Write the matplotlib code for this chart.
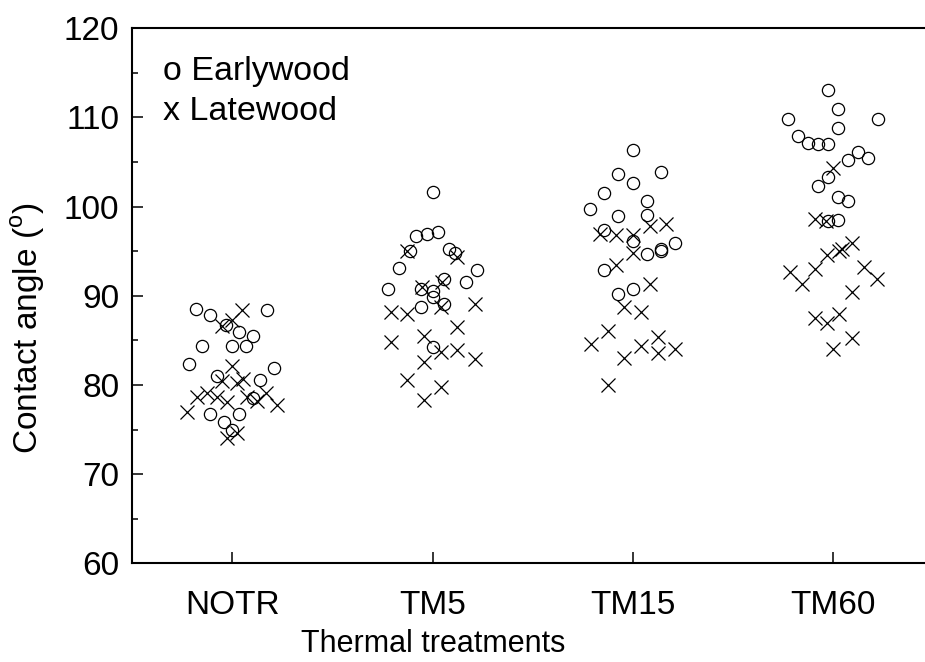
import matplotlib
matplotlib.use("Agg")
import matplotlib.pyplot as plt
from matplotlib.ticker import MultipleLocator

plt.rcParams['font.family'] = ['Liberation Sans', 'DejaVu Sans']
plt.rcParams['mathtext.fontset'] = 'custom'
plt.rcParams['mathtext.rm'] = 'Liberation Sans'

categories = ["NOTR", "TM5", "TM15", "TM60"]

# jitter offsets (category units) and contact angles
early_dx = {
    "NOTR": [-0.183, -0.113, -0.031, 0.033, 0.105, 0.175, -0.15, -0.003, 0.068, -0.218, 0.21, -0.075, 0.138, 0.105, -0.113, 0.033, -0.041, -0.003],
    "TM5": [0.0, -0.085, -0.03, 0.025, -0.113, 0.082, 0.112, -0.17, 0.222, 0.055, 0.165, -0.225, -0.056, 0.002, 0.0, 0.055, -0.056, 0.0],
    "TM15": [0.0, -0.074, 0.142, 0.0, -0.144, 0.071, -0.216, -0.074, 0.071, -0.144, 0.0, 0.212, 0.142, 0.142, 0.071, -0.144, 0.0, -0.074],
    "TM60": [-0.025, 0.023, -0.225, 0.225, 0.023, -0.176, -0.126, -0.076, -0.025, 0.123, 0.175, 0.073, -0.025, -0.076, 0.023, 0.073, -0.025, 0.023],
}
early_val = {
    "NOTR": [88.55, 87.8, 86.76, 85.9, 85.45, 88.4, 84.34, 84.34, 84.34, 82.4, 81.9, 81.06, 80.6, 78.5, 76.8, 76.8, 75.9, 75.0],
    "TM5": [101.6, 96.7, 96.9, 97.2, 95.0, 95.3, 94.8, 93.1, 92.9, 91.9, 91.6, 90.8, 90.8, 90.5, 89.9, 89.1, 88.7, 84.3],
    "TM15": [106.4, 103.7, 103.9, 102.7, 101.5, 100.6, 99.7, 98.9, 99.05, 97.4, 96.1, 95.9, 95.3, 95.0, 94.7, 92.9, 90.8, 90.2],
    "TM60": [113.1, 110.9, 109.8, 109.8, 108.85, 107.9, 107.1, 107.05, 107.05, 106.1, 105.5, 105.2, 103.3, 102.3, 101.05, 100.65, 98.4, 98.55],
}
late_dx = {
    "NOTR": [0.05, -0.053, -0.003, -0.003, -0.053, 0.022, 0.052, 0.168, -0.178, -0.128, -0.078, -0.025, 0.072, 0.122, 0.222, -0.228, -0.025, 0.022],
    "TM5": [-0.128, 0.122, -0.053, 0.047, 0.042, 0.21, -0.208, -0.128, 0.122, -0.045, -0.208, 0.042, 0.122, 0.21, -0.045, -0.128, 0.042, -0.045],
    "TM15": [-0.166, -0.082, 0.0, 0.084, 0.167, 0.0, -0.082, 0.084, -0.042, 0.042, -0.124, -0.209, 0.042, 0.126, 0.126, 0.209, -0.042, -0.124],
    "TM60": [0.0, -0.091, -0.035, 0.095, -0.031, 0.03, 0.045, -0.216, -0.091, 0.156, -0.155, 0.218, 0.095, -0.091, -0.031, 0.03, 0.095, 0.0],
}
late_val = {
    "NOTR": [88.4, 86.6, 87.3, 82.1, 80.4, 80.25, 80.7, 79.1, 78.6, 79.05, 78.6, 78.1, 78.6, 78.2, 77.75, 77.0, 74.0, 74.6],
    "TM5": [95.0, 94.3, 91.0, 91.5, 88.7, 89.1, 88.2, 88.0, 86.5, 85.5, 84.8, 83.7, 83.9, 82.9, 82.6, 80.6, 79.75, 78.3],
    "TM15": [96.9, 96.8, 96.8, 97.85, 98.1, 94.8, 93.5, 91.3, 88.7, 88.2, 86.0, 84.6, 84.4, 85.4, 83.6, 84.05, 83.0, 80.0],
    "TM60": [104.3, 98.6, 98.4, 95.9, 94.6, 95.0, 95.2, 92.7, 93.05, 93.2, 91.3, 91.9, 90.4, 87.5, 86.9, 88.0, 85.3, 84.0],
}

W, H = 925, 662
fig = plt.figure(figsize=(W / 100, H / 100), dpi=100)
ax = fig.add_axes([131.7 / W, 1 - 563.3 / H, (W - 131.7) / W, (563.3 - 28.3) / H])

for i, c in enumerate(categories):
    ax.plot([i + d for d in early_dx[c]], early_val[c], linestyle='none', marker='o',
            ms=8.8, mfc='none', mec='black', mew=0.9)
    ax.plot([i + d for d in late_dx[c]], late_val[c], linestyle='none', marker='x',
            ms=9.5, mec='black', mew=0.9)

ax.set_xlim(-0.503, 3.46)
ax.set_ylim(60, 120)
ax.set_xticks(range(len(categories)))
ax.set_xticklabels(categories)
ax.yaxis.set_major_locator(MultipleLocator(10))
ax.yaxis.set_minor_locator(MultipleLocator(5))
ax.tick_params(axis='both', which='major', direction='in', length=8, width=1.1,
               labelsize=24, pad=9)
ax.tick_params(axis='x', which='major', pad=19)
ax.tick_params(axis='y', which='minor', direction='in', length=4, width=1.1)
ax.tick_params(axis='x', which='minor', bottom=False)
ax.spines['right'].set_visible(False)
for s in ['left', 'bottom', 'top']:
    ax.spines[s].set_linewidth(1.5)

ax.set_xlabel("Thermal treatments", fontsize=22)
ax.xaxis.set_label_coords((433 - 131.7) / (W - 131.7), -0.123)
ax.set_ylabel(r"Contact angle ($^{\mathrm{o}}$)", fontsize=24)
ax.yaxis.set_label_coords(-0.1067, 0.44)

fig.text(163 / W, 1 - 80 / H, "o Earlywood", fontsize=24.5, va='baseline', ha='left')
fig.text(163 / W, 1 - 120 / H, "x Latewood", fontsize=24.5, va='baseline', ha='left')

fig.savefig("out.png", dpi=100)
